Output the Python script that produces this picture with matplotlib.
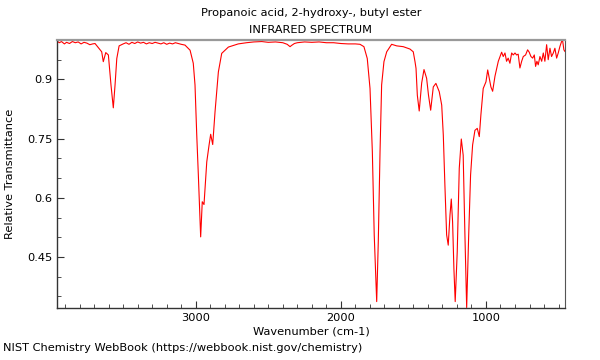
import matplotlib
matplotlib.use("Agg")
import matplotlib.pyplot as plt
from matplotlib.ticker import MultipleLocator

title_line1 = "Propanoic acid, 2-hydroxy-, butyl ester"
title_line2 = "INFRARED SPECTRUM"
x_label = "Wavenumber (cm-1)"
y_label = "Relative Transmittance"
footer = "NIST Chemistry WebBook (https://webbook.nist.gov/chemistry)"
y_tick_values = [0.45, 0.6, 0.75, 0.9]
y_tick_labels = ["0.45", "0.6", "0.75", "0.9"]

wavenumber = [
    3955, 3940, 3925, 3905, 3890, 3870, 3850, 3830, 3810, 3790, 3770, 3750, 3730, 3710,
    3694, 3648, 3637, 3620, 3602, 3584, 3568, 3556, 3544, 3528,
    3500, 3480, 3460, 3440, 3420, 3400, 3380, 3360, 3340, 3320, 3300, 3280, 3260, 3240,
    3220, 3200, 3180, 3160, 3140, 3120, 3100,
    3074, 3039, 3017, 3005, 2993, 2982, 2966, 2955, 2943, 2924, 2908, 2897, 2883, 2867,
    2844, 2821, 2775, 2707, 2650, 2600, 2545, 2500, 2450, 2400, 2370, 2350, 2340, 2320,
    2300, 2250, 2200, 2150, 2100, 2050, 2000, 1950, 1900, 1868,
    1841, 1818, 1799, 1783, 1770, 1753, 1742, 1730, 1719, 1703, 1684, 1650, 1615, 1570,
    1524, 1501, 1489, 1482, 1473, 1460, 1443, 1427, 1409, 1396, 1381, 1363, 1345, 1322,
    1305, 1294, 1283, 1271, 1260, 1248, 1239, 1230, 1221, 1212, 1198, 1184, 1170, 1157,
    1145, 1133, 1119, 1106, 1092, 1076, 1060, 1046, 1035, 1019, 1000, 988, 977, 966, 954,
    938, 915, 892, 881, 869, 858, 847, 835, 823, 812, 800, 789, 778, 766, 754, 743, 727,
    713, 702, 690, 678, 667, 658, 649, 640, 628, 616, 605, 594, 582, 571, 559, 548, 536,
    525, 513, 502, 490, 479, 472, 463, 456,
]

transmittance = [
    0.997, 0.993, 0.996, 0.990, 0.994, 0.991, 0.996, 0.993, 0.995, 0.990, 0.994, 0.992, 0.988, 0.990,
    0.991, 0.970, 0.945, 0.968, 0.962, 0.886, 0.828, 0.886, 0.953, 0.985,
    0.990, 0.993, 0.989, 0.994, 0.991, 0.995, 0.992, 0.994, 0.990, 0.993, 0.991, 0.994, 0.992, 0.990,
    0.993, 0.989, 0.992, 0.990, 0.993, 0.991, 0.989,
    0.987, 0.974, 0.941, 0.886, 0.759, 0.658, 0.501, 0.590, 0.583, 0.691, 0.734, 0.761, 0.735, 0.818,
    0.919, 0.966, 0.982, 0.990, 0.993, 0.995, 0.996, 0.994, 0.995, 0.993, 0.989, 0.983, 0.986, 0.991,
    0.993, 0.995, 0.994, 0.995, 0.993, 0.993, 0.991, 0.990, 0.990, 0.989,
    0.983, 0.953, 0.877, 0.717, 0.506, 0.337, 0.489, 0.717, 0.886, 0.945, 0.970, 0.989, 0.985, 0.983,
    0.977, 0.970, 0.945, 0.928, 0.860, 0.820, 0.891, 0.925, 0.903, 0.860, 0.822, 0.881, 0.890, 0.869,
    0.835, 0.759, 0.632, 0.506, 0.480, 0.556, 0.597, 0.539, 0.421, 0.337, 0.463, 0.675, 0.749, 0.708,
    0.506, 0.322, 0.506, 0.658, 0.734, 0.771, 0.776, 0.755, 0.810, 0.877, 0.894, 0.924, 0.903, 0.881, 0.870,
    0.908, 0.946, 0.969, 0.958, 0.967, 0.946, 0.954, 0.941, 0.967, 0.962, 0.967, 0.962, 0.964, 0.929, 0.946, 0.958, 0.962,
    0.975, 0.969, 0.958, 0.954, 0.962, 0.933, 0.946, 0.937, 0.958, 0.946, 0.967, 0.946, 0.988, 0.950, 0.979, 0.958, 0.967,
    0.979, 0.954, 0.967, 0.984, 0.996, 0.999, 0.975, 0.971,
]

fig = plt.figure(figsize=(6, 3.6), dpi=100)
ax = fig.add_axes([0.095, 0.1436, 0.847, 0.7454])
ax.plot(wavenumber, transmittance, color="#ff0000", linewidth=0.8)
ax.set_xlim(3956, 454)
ax.set_ylim(0.32, 1.0)

ax.xaxis.set_major_locator(MultipleLocator(1000))
ax.xaxis.set_minor_locator(MultipleLocator(100))
ax.yaxis.set_minor_locator(MultipleLocator(0.05))
ax.set_yticks(y_tick_values)
ax.set_yticklabels(y_tick_labels)
ax.tick_params(which="both", direction="in", labelsize=8.2, color="#333333")
ax.tick_params(which="major", length=5)
ax.tick_params(which="minor", length=3)
ax.tick_params(axis="x", which="both", top=False)
ax.tick_params(axis="y", which="both", right=False)

for side in ["left", "bottom"]:
    ax.spines[side].set_color("#333333")
    ax.spines[side].set_linewidth(1.0)
ax.spines["right"].set_color("#555555")
ax.spines["top"].set_color("#999999")
ax.spines["top"].set_linewidth(1.6)

ax.set_xlabel(x_label, fontsize=8.2)
ax.xaxis.set_label_coords(0.5, -0.066)
ax.set_ylabel(y_label, fontsize=8.2)
ax.yaxis.set_label_coords(-0.083, 0.5)
fig.text(0.518, 0.963, title_line1, ha="center", va="center", fontsize=8.2)
fig.text(0.518, 0.916, title_line2, ha="center", va="center", fontsize=8.2)
fig.text(0.005, 0.02, footer, ha="left", va="bottom", fontsize=8.2)

fig.savefig("out.png", dpi=100)
